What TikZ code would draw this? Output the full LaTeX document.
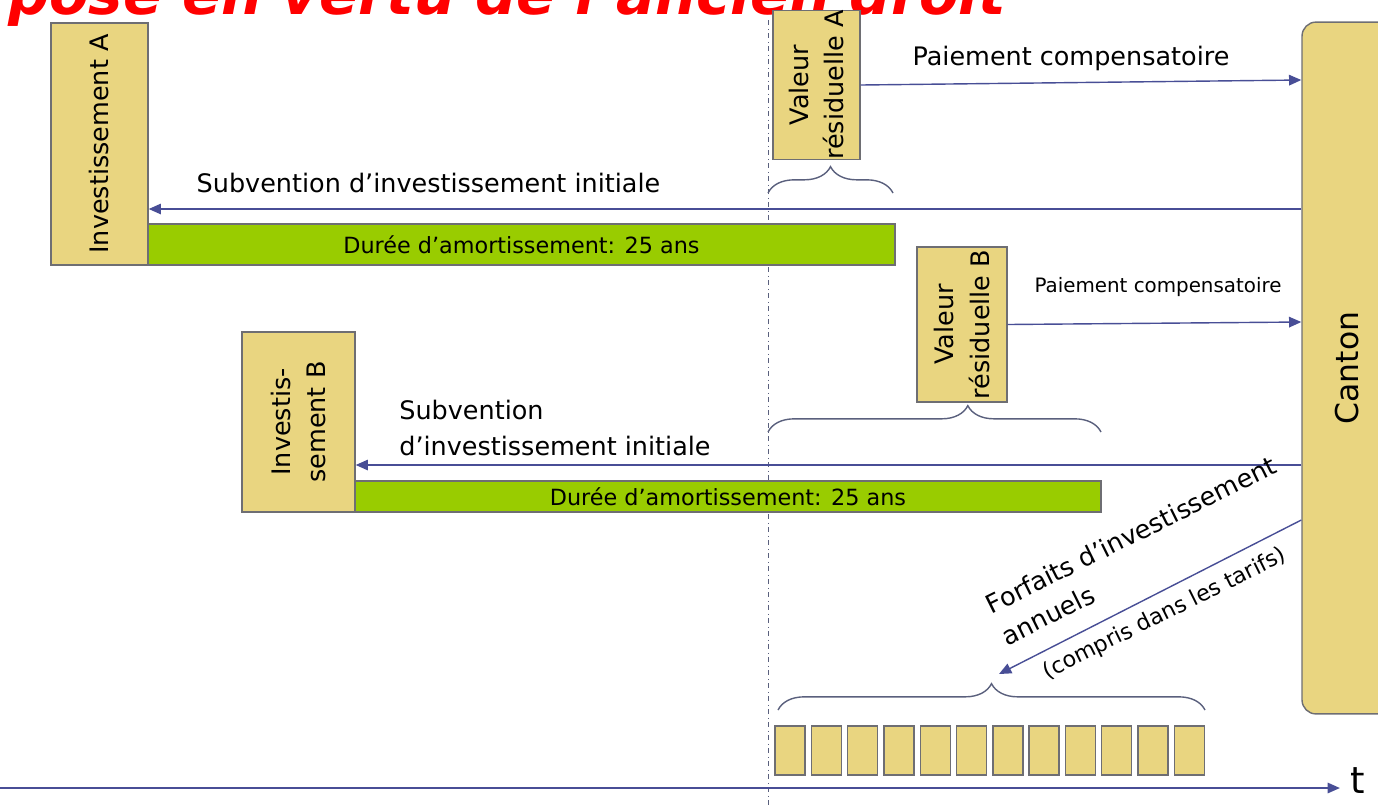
\documentclass[tikz,border=0pt]{standalone}
\usepackage{fontspec}
\setmainfont{DejaVu Sans}
\usetikzlibrary{arrows.meta,decorations.pathreplacing}
\definecolor{boxtan}{RGB}{233,213,128}
\definecolor{bargreen}{RGB}{153,204,0}
\definecolor{flowblue}{RGB}{72,78,150}
\definecolor{edgegray}{RGB}{110,110,115}
\definecolor{bracegray}{RGB}{90,96,125}
\begin{document}
\begin{tikzpicture}[x=0.02cm, y=-0.02cm, inner sep=0pt,
    box/.style={draw=edgegray, line width=0.8pt, fill=boxtan, align=center},
    bar/.style={draw=edgegray, line width=0.8pt, fill=bargreen, font=\fontsize{12.7}{15}\selectfont},
    flow/.style={draw=flowblue, line width=0.8pt, -{Triangle[length=7pt,width=6pt]}},
    big/.style={font=\fontsize{14.5}{20}\selectfont},
    span/.style={draw=bracegray, line width=0.8pt, decorate, decoration={brace, amplitude=15pt, aspect=#1}},
    span/.default=0.5]
  \useasboundingbox (0,0) rectangle (1378,806);
  \node[anchor=base west, text=red, font=\fontsize{32.7}{36}\selectfont\bfseries\itshape] (title) at (8,14) {posé en vertu de l'ancien droit};

  \coordinate (now0) at (768,20);
  \coordinate (now1) at (768,806);
  \draw[dashdotted, draw=bracegray, line width=0.5pt] (now0) -- (now1);

  \node[box, rounded corners=8pt, rotate=90, minimum width=13.84cm, minimum height=1.8cm, font=\fontsize{17.9}{20}\selectfont] (canton) at (1347,368) {Canton};

  \node[box, rotate=90, minimum width=4.84cm, minimum height=1.94cm, big] (invA) at (99.5,144) {Investissement A};
  \node[bar, minimum width=14.94cm, minimum height=0.82cm] (barA) at (521.5,244.5) {Durée d'amortissement: 25 ans};
  \node[box, rotate=90, minimum width=2.92cm, minimum height=1.74cm, big] (resA) at (816.5,85) {Valeur\\résiduelle A};
  \draw[span] (768,193) -- (893,193);
  \draw[flow] (canton.north |- 0,209) -- (invA.south |- 0,209);
  \node[big] (subAlbl) at (428.5,183) {Subvention d'investissement initiale};
  \draw[flow] (resA.south) -- (canton.north |- 0,80);
  \node[big] (payAlbl) at (1071,58) {Paiement compensatoire};

  \node[box, rotate=90, minimum width=3.6cm, minimum height=2.26cm, big] (invB) at (298.5,422) {Investis-\\sement B};
  \node[bar, minimum width=14.92cm, minimum height=0.62cm] (barB) at (728,496.5) {Durée d'amortissement: 25 ans};
  \node[box, rotate=90, minimum width=3.1cm, minimum height=1.8cm, big] (resB) at (962,324.5) {Valeur\\résiduelle B};
  \draw[span=0.6] (768,432) -- (1101,432);
  \draw[flow] (canton.north |- 0,465) -- (invB.south |- 0,465);
  \node[big, align=left, anchor=west] (subBlbl) at (399,428) {Subvention\\d'investissement initiale};
  \draw[flow] (resB.south) -- (canton.north |- 0,322);
  \node[font=\fontsize{11.3}{14}\selectfont] (payBlbl) at (1158,287) {Paiement compensatoire};

  \foreach \i in {1,...,12}
    \node[box, minimum width=0.6cm, minimum height=0.98cm] (yr\i) at ({753.7+36.3*\i},750.5) {};
  \draw[span] (778,710) -- (1205,710);
  \coordinate (tipC) at (999,674);
  \draw[flow] (canton.north |- 0,520) -- (tipC);
  \node[big, align=left, anchor=west, rotate=26.4] (forfLbl) at (995,622) {Forfaits d'investissement\\annuels};
  \node[font=\fontsize{12.6}{15}\selectfont, rotate=26.4] (tarifLbl) at (1165,614) {(compris dans les tarifs)};

  \coordinate (t0) at (0,788);
  \node[font=\fontsize{21}{24}\selectfont] (t) at (1358,781) {t};
  \draw[flow, shorten >=6pt] (t0) -- (t.west |- t0);
\end{tikzpicture}
\end{document}
